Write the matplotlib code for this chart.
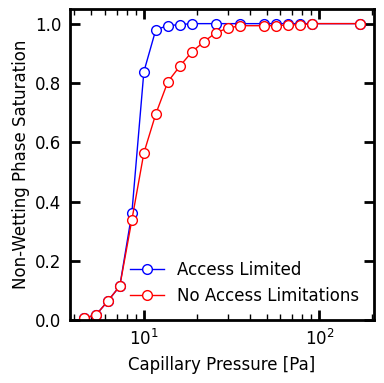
import matplotlib.pyplot as plt

# Access limited
p_lim = [4.54, 5.32, 6.22, 7.29, 8.54, 10.0, 11.7, 13.7, 16.1, 18.8,
         25.8, 35.4, 48.5, 56.8, 66.5, 77.9, 91.2, 171]
s_lim = [0.007, 0.017, 0.064, 0.115, 0.361, 0.838, 0.98, 0.993, 0.997, 1.0,
         1.0, 1.0, 1.0, 1.0, 1.0, 1.0, 1.0, 1.0]

# No access limitations
p_free = [4.54, 5.32, 6.22, 7.29, 8.54, 10.0, 11.7, 13.7, 16.1, 18.8,
          22.0, 25.8, 30.2, 35.4, 48.5, 56.8, 66.5, 77.9, 91.2, 171]
s_free = [0.007, 0.017, 0.064, 0.115, 0.338, 0.564, 0.696, 0.804, 0.858, 0.905,
          0.939, 0.97, 0.985, 0.993, 0.993, 0.993, 0.996, 0.996, 1.0, 1.0]

fig = plt.figure(figsize=(3.84, 3.83), dpi=100)
ax = fig.add_axes([0.182, 0.164, 0.792, 0.813])

ax.plot(p_lim, s_lim, "-o", color="blue", lw=1, ms=7, mfc="white",
        mew=1, label="Access Limited")
ax.plot(p_free, s_free, "-o", color="red", lw=1, ms=7, mfc="white",
        mew=1, label="No Access Limitations")

ax.set_xscale("log")
ax.set_ylim(0, 1.05)
ax.set_xlabel("Capillary Pressure [Pa]", fontsize=12, labelpad=5)
ax.set_ylabel("Non-Wetting Phase Saturation", fontsize=12, labelpad=4)

for s in ax.spines.values():
    s.set_linewidth(2)
ax.tick_params(which="major", direction="in", length=7, width=2,
               top=True, right=True, labelsize=12, pad=6)
ax.tick_params(which="minor", direction="in", length=4, width=1,
               top=True, right=True)

ax.legend(loc="lower right", frameon=False, fontsize=12)
fig.savefig("out.png", dpi=100)
